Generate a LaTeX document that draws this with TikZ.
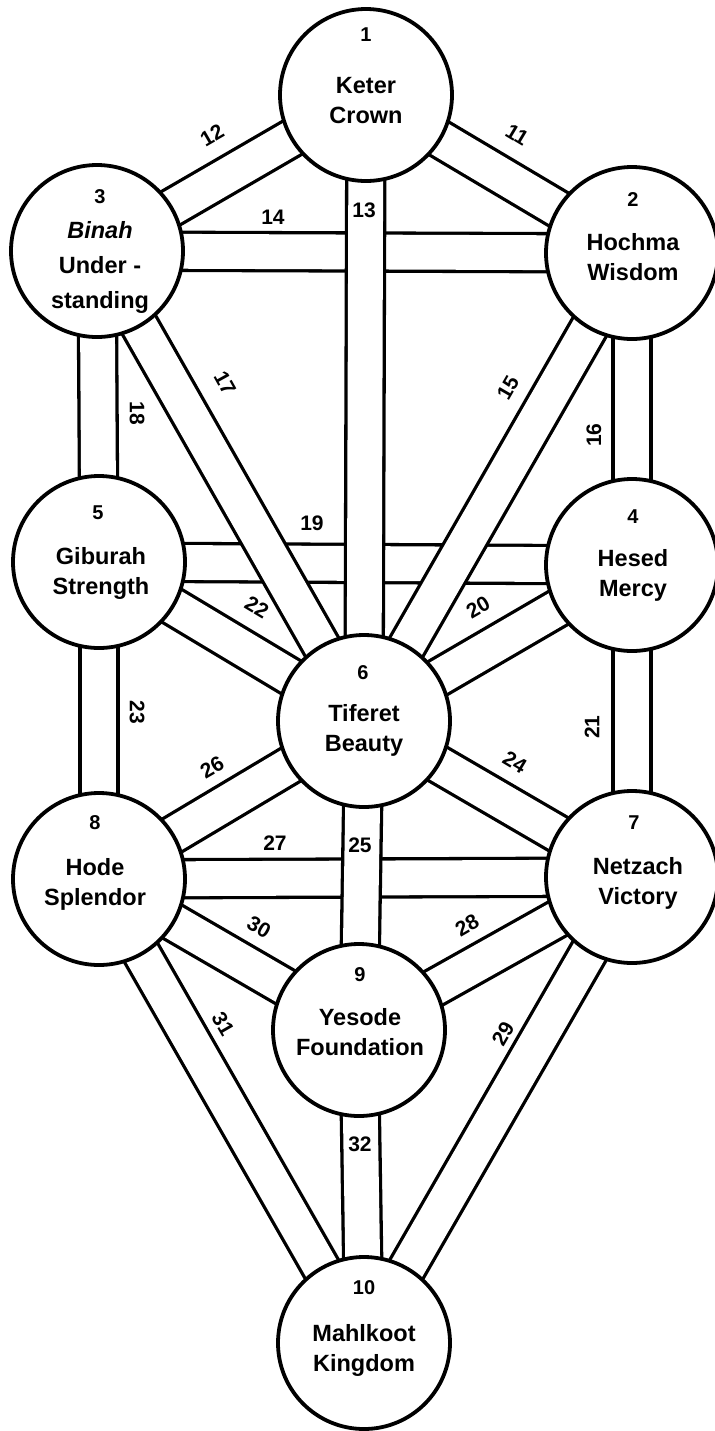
\documentclass[tikz,border=0pt]{standalone}
\usepackage{fontspec}
\setmainfont{Liberation Sans}
\usetikzlibrary{backgrounds}
\begin{document}
\begin{tikzpicture}[x=0.5pt,y=-0.5pt,
  band/.style={line width=1.65pt, draw=black, double=white, double distance=17.4pt},
  sephira/.style={circle, draw=black, line width=1.9pt, fill=white, minimum size=86pt, inner sep=0pt},
  num/.style={font=\fontsize{10}{12}\selectfont\bfseries, inner sep=0pt},
  sname/.style={font=\fontsize{11.75}{15}\selectfont\bfseries, align=center, text depth=0pt, inner sep=0pt},
  plabel/.style={font=\fontsize{10.5}{12}\selectfont\bfseries, inner sep=0pt}]
\useasboundingbox (0,0) rectangle (714,1431);

% the ten circles
\node[sephira] (K)  at (366,95)   {};
\node[sephira] (Ho) at (632,253)  {};
\node[sephira] (Bi) at (97,251)   {};
\node[sephira] (He) at (632,565)  {};
\node[sephira] (Gi) at (99,562)   {};
\node[sephira] (Ti) at (364,721)  {};
\node[sephira] (Ne) at (632,877)  {};
\node[sephira] (Hd) at (99,879)   {};
\node[sephira] (Ye) at (359,1030) {};
\node[sephira] (Ma) at (364,1343) {};

% the paths (bands), behind the circles
\begin{scope}[on background layer]
  \draw[band] (Bi.center) -- (Ho.center); % 14
  \draw[band] (Gi.center) -- (He.center); % 19
  \draw[band] (Hd.center) -- (Ne.center); % 27
  \draw[band] (K.center) -- (Ho.center);  % 11
  \draw[band] (K.center) -- (Bi.center);  % 12
  \draw[band] (K.center) -- (Ti.center);  % 13
  \draw[band] (Ho.center) -- (Ti.center); % 15
  \draw[band] (Ho.center) -- (He.center); % 16
  \draw[band] (Bi.center) -- (Ti.center); % 17
  \draw[band] (Bi.center) -- (Gi.center); % 18
  \draw[band] (He.center) -- (Ti.center); % 20
  \draw[band] (He.center) -- (Ne.center); % 21
  \draw[band] (Gi.center) -- (Ti.center); % 22
  \draw[band] (Gi.center) -- (Hd.center); % 23
  \draw[band] (Ti.center) -- (Ne.center); % 24
  \draw[band] (Ti.center) -- (Ye.center); % 25
  \draw[band] (Ti.center) -- (Hd.center); % 26
  \draw[band] (Ne.center) -- (Ye.center); % 28
  \draw[band] (Ne.center) -- (Ma.center); % 29
  \draw[band] (Hd.center) -- (Ye.center); % 30
  \draw[band] (Hd.center) -- (Ma.center); % 31
  \draw[band] (Ye.center) -- (Ma.center); % 32
\end{scope}

% numbers and names of the circles
\node[num] (n1)  at (366,35)   {1};
\node[sname] (t1) at (366,100) {Keter\\Crown};
\node[num] (n2)  at (633,200)  {2};
\node[sname] (t2) at (633,257) {Hochma\\Wisdom};
\node[num] (n3)  at (100,197)  {3};
\node[sname, font=\fontsize{11.75}{17.5}\selectfont\bfseries] (t3) at (100,265) {\textit{Binah}\\Under -\\standing};
\node[num] (n4)  at (633,517)  {4};
\node[sname] (t4) at (633,573) {Hesed\\Mercy};
\node[num] (n5)  at (98,513)   {5};
\node[sname] (t5) at (101,571) {Giburah\\Strength};
\node[num] (n6)  at (363,673)  {6};
\node[sname] (t6) at (364,728) {Tiferet\\Beauty};
\node[num] (n7)  at (634,823)  {7};
\node[sname] (t7) at (638,881) {Netzach\\Victory};
\node[num] (n8)  at (95,823)   {8};
\node[sname] (t8) at (95,882)  {Hode\\Splendor};
\node[num] (n9)  at (360,975)  {9};
\node[sname] (t9) at (360,1032) {Yesode\\Foundation};
\node[num] (n10) at (364,1288) {10};
\node[sname] (t10) at (364,1348) {Mahlkoot\\Kingdom};

% path numbers
\node[plabel, rotate=-31] (l11) at (517,135)  {11};
\node[plabel, rotate=30]  (l12) at (212,135)  {12};
\node[plabel]             (l13) at (364,210)  {13};
\node[plabel]             (l14) at (273,217)  {14};
\node[plabel, rotate=60]  (l15) at (508,388)  {15};
\node[plabel, rotate=90]  (l16) at (594,435)  {16};
\node[plabel, rotate=-61] (l17) at (225,383)  {17};
\node[plabel, rotate=-90] (l18) at (137,413)  {18};
\node[plabel]             (l19) at (312,523)  {19};
\node[plabel, rotate=30]  (l20) at (478,607)  {20};
\node[plabel, rotate=90]  (l21) at (592,727)  {21};
\node[plabel, rotate=-31] (l22) at (257,607)  {22};
\node[plabel, rotate=-90] (l23) at (137,712)  {23};
\node[plabel, rotate=-31] (l24) at (515,762)  {24};
\node[plabel]             (l25) at (360,845)  {25};
\node[plabel, rotate=30]  (l26) at (212,767)  {26};
\node[plabel]             (l27) at (275,843)  {27};
\node[plabel, rotate=30]  (l28) at (467,925)  {28};
\node[plabel, rotate=60]  (l29) at (503,1034) {29};
\node[plabel, rotate=-30] (l30) at (259,927)  {30};
\node[plabel, rotate=-60] (l31) at (223,1024) {31};
\node[plabel]             (l32) at (360,1144) {32};
\end{tikzpicture}
\end{document}
